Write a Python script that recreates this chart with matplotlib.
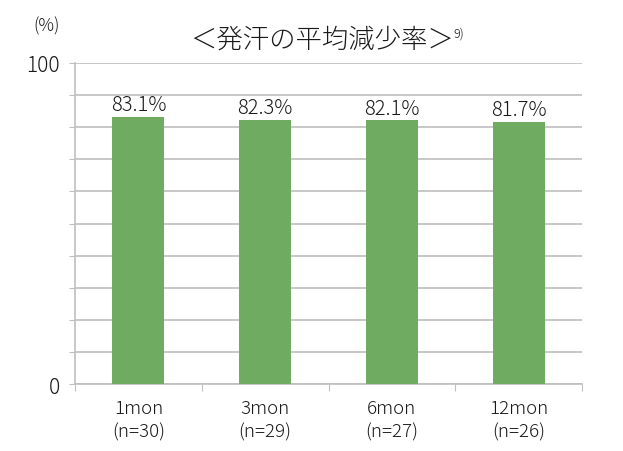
import matplotlib
matplotlib.use("Agg")
import matplotlib.pyplot as plt

plt.rcParams['font.family'] = ['Noto Sans CJK JP', 'DejaVu Sans']
plt.rcParams['font.weight'] = 'light'

categories = ['1mon', '3mon', '6mon', '12mon']
counts = [30, 29, 27, 26]
values = [83.1, 82.3, 82.1, 81.7]

bar_color = '#70AB62'
grid_color = '#BFBFBF'
text_color = '#1a1a1a'

fig = plt.figure(figsize=(6.23, 4.52), dpi=100)
ax = fig.add_axes([75 / 623, 1 - 385 / 452, 507 / 623, 321 / 452])

x = range(len(categories))
ax.bar(x, values, width=0.41, color=bar_color, zorder=3)
for xi, v in zip(x, values):
    ax.text(xi, v + 0.6, f'{v}%', ha='center', va='bottom', fontsize=14.5, color=text_color)

ax.set_xlim(-0.5, len(categories) - 0.5)
ax.set_ylim(0, 100)
ax.set_yticks(range(0, 101, 10))
ax.set_yticklabels(['0'] + [''] * 9 + ['100'], fontsize=15, color=text_color)
ax.yaxis.grid(True, color=grid_color, linewidth=1.2, zorder=0)
ax.tick_params(axis='y', length=4, color=grid_color, pad=7)

# category boundary ticks on x, labels centred on bars
ax.set_xticks([i - 0.5 for i in range(len(categories) + 1)], minor=False)
ax.set_xticklabels([])
ax.set_xticks(list(x), minor=True)
ax.set_xticklabels([f'{c}\n(n={n})' for c, n in zip(categories, counts)], minor=True,
                   fontsize=13.5, linespacing=1.35, color=text_color)
ax.tick_params(axis='x', which='major', length=5, color=grid_color)
ax.tick_params(axis='x', which='minor', length=0, pad=11)

for s in ['top', 'right']:
    ax.spines[s].set_visible(False)
for s in ['left', 'bottom']:
    ax.spines[s].set_color(grid_color)
    ax.spines[s].set_linewidth(1.2)

fig.text(47 / 623, 1 - 26 / 452, '(%)', fontsize=12.5, ha='center', va='center', color=text_color)
fig.text(322 / 623, 1 - 40 / 452, '＜発汗の平均減少率＞', fontsize=19, ha='center', va='center',
         color=text_color)
fig.text(453 / 623, 1 - 34 / 452, '9)', fontsize=9, ha='left', va='center', color=text_color)

fig.savefig('out.png', dpi=100)
